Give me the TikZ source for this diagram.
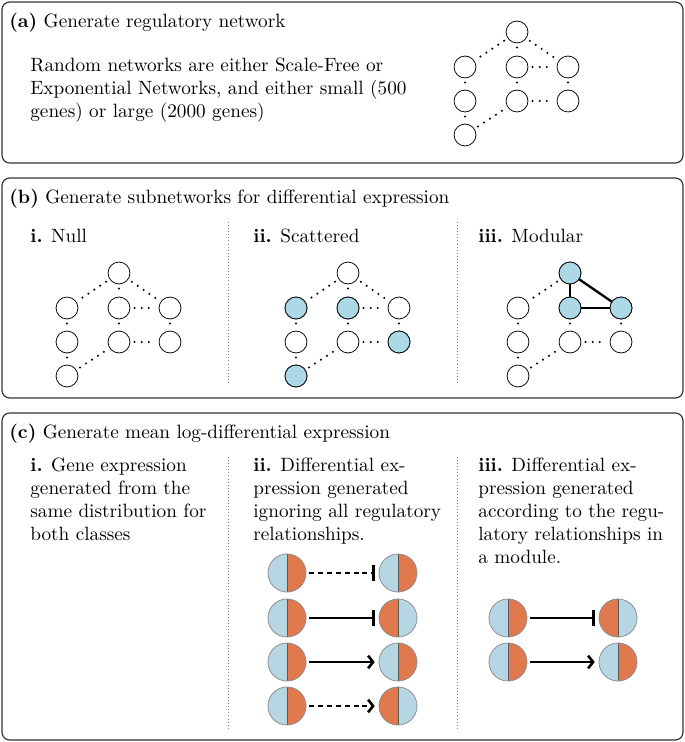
\documentclass[tikz,border=0pt]{standalone}
\usepackage{amsfonts,amsmath}
\usepackage{tikz}
\usetikzlibrary{shapes,arrows,arrows.meta,positioning}

\definecolor{geneblue}{HTML}{B7D6E3}
\definecolor{geneorange}{HTML}{E0794E}
\definecolor{netblue}{HTML}{ADD8E6}

\tikzset{
  panel/.style={draw=black!80, rounded corners=4pt, line width=0.6pt},
  head/.style={anchor=base west, inner sep=0pt},
  body/.style={anchor=north west, inner sep=0pt, align=left},
  sep/.style={black!50, line width=0.4pt, dash pattern=on 0.4pt off 1.2pt},
  gnode/.style={circle, draw, inner sep=0pt, minimum size=11.4pt, line width=0.4pt},
  weak/.style={line width=1.2pt, line cap=round, dash pattern=on 0pt off 3.7pt,
    shorten <=2.2pt, shorten >=2.2pt},
  strong/.style={line width=1.2pt},
  half/.style 2 args={circle, minimum size=19.8pt, inner sep=0pt, draw=black!45,
    line width=0.4pt, path picture={
      \fill[#1] (path picture bounding box.south west) rectangle (path picture bounding box.north);
      \fill[#2] (path picture bounding box.south) rectangle (path picture bounding box.north east);
      \draw[black!65, line width=0.5pt] (path picture bounding box.south) -- (path picture bounding box.north);}},
  bo/.style={half={geneblue}{geneorange}},
  ob/.style={half={geneorange}{geneblue}},
  link/.style={line width=1.35pt, shorten <=1.5pt, shorten >=2pt},
  broken/.style={dash pattern=on 2.6pt off 2pt},
  act/.style={->},
  inh/.style={-{Bar[width=8.4pt]}},
}

\begin{document}
\begin{tikzpicture}[x=0.52pt,y=-0.52pt,>={Straight Barb[length=2.6pt,width=6.6pt]}]
  \useasboundingbox (0,0) rectangle (685,742);

  % panels
  \draw[panel] (2,2) rectangle (683,163);
  \draw[panel] (2,178) rectangle (683,398);
  \draw[panel] (2,413) rectangle (683,740);

  % panel (a)
  \node[head] (ta) at (9,28) {\textbf{(a)} Generate regulatory network};
  \node[body] (desc) at (30,57.5) {Random networks are either Scale-Free or\\
    Exponential Networks, and either small (500\\genes) or large (2000 genes)};

  % panel (b)
  \node[head] (tb) at (9,204) {\textbf{(b)} Generate subnetworks for differential expression};
  \node[head] (null) at (30,242) {\textbf{i.} Null};
  \node[head] (scat) at (253,242) {\textbf{ii.} Scattered};
  \node[head] (modu) at (478,242) {\textbf{iii.} Modular};

  % panel (c)
  \node[head] (tc) at (9,438) {\textbf{(c)} Generate mean log-differential expression};
  \node[body] (same) at (30,457.5) {\textbf{i.} Gene expression\\generated from the\\
    same distribution for\\both classes};
  \node[body] (ignore) at (253,457.5) {\textbf{ii.} Differential ex-\\pression generated\\
    ignoring all regulatory\\relationships.};
  \node[body] (module) at (478,457.5) {\textbf{iii.} Differential ex-\\pression generated\\
    according to the regu-\\latory relationships in\\a module.};

  % column separators
  \foreach \sx in {228,457}{
    \draw[sep] (\sx,222) -- (\sx,385);
    \draw[sep] (\sx,457) -- (\sx,728);
  }

  % networks
  \foreach \p/\ox/\oy in {a/517/32,n/119/273,s/348/273,m/570/273}{
    \foreach \n/\dx/\dy in {t/0/0,l1/-52/35,c1/0/35,r1/51/35,l2/-52/69,c2/0/69,r2/51/69,b/-52/103}
      \node[gnode] (\p\n) at ({\ox+\dx},{\oy+\dy}) {};
  }
  \foreach \h in {sl1,sc1,sr2,sb,mt,mc1,mr1}
    \filldraw[fill=netblue, line width=0.4pt] (\h) circle (5.7pt);

  \foreach \p in {a,n,s,m}{
    \draw[weak] (\p t) -- (\p l1);
    \draw[weak] (\p l1) -- (\p l2);
    \draw[weak] (\p l2) -- (\p b);
    \draw[weak] (\p b) -- (\p c2);
    \draw[weak] (\p c1) -- (\p c2);
    \draw[weak] (\p r1) -- (\p r2);
    \draw[weak] (\p c2) -- (\p r2);
  }
  \foreach \p in {a,n,s}{
    \draw[weak] (\p t) -- (\p c1);
    \draw[weak] (\p t) -- (\p r1);
    \draw[weak] (\p c1) -- (\p r1);
  }
  \draw[strong] (mt) -- (mc1);
  \draw[strong] (mt) -- (mr1);
  \draw[strong] (mc1) -- (mr1);

  % gene pairs, ignoring regulation
  \foreach \k/\y/\rt/\tip/\pat in {1/573/bo/inh/broken,2/618/ob/inh/solid,3/662/bo/act/solid,4/706/ob/act/broken}{
    \node[bo] (il\k) at (287,\y) {};
    \node[\rt] (ir\k) at (398,\y) {};
    \draw[link,\tip,\pat] (il\k) -- (ir\k);
  }

  % gene pairs, following the module
  \foreach \k/\y/\rt/\tip in {1/618/ob/inh,2/662/bo/act}{
    \node[bo] (dl\k) at (508,\y) {};
    \node[\rt] (dr\k) at (618,\y) {};
    \draw[link,\tip] (dl\k) -- (dr\k);
  }
\end{tikzpicture}
\end{document}
